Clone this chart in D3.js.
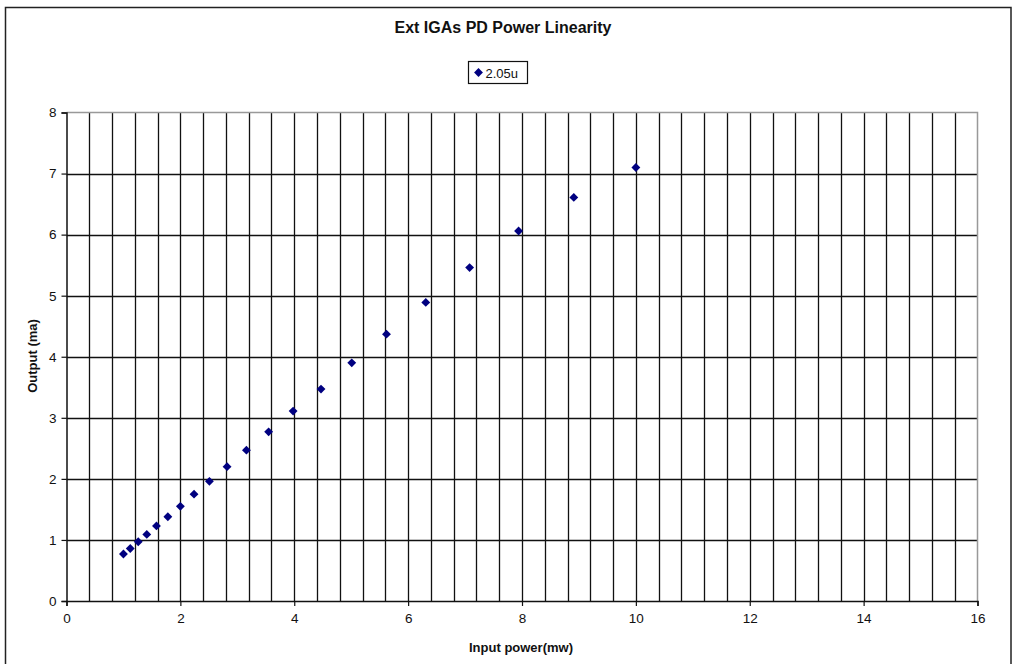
<!DOCTYPE html>
<html>
<head>
<meta charset="utf-8">
<script src="https://cdn.jsdelivr.net/npm/d3@7"></script>
<style>
  body { margin: 0; background: #fff; }
  svg { display: block; font-family: "Liberation Sans", Arial, sans-serif; }
</style>
</head>
<body>
<svg id="chart" width="1018" height="664"></svg>
<script>
// Data
const seriesName = "2.05u"
const inputPower = [1.0, 1.12, 1.26, 1.41, 1.58, 1.78, 2.0, 2.24, 2.51, 2.82, 3.16, 3.55, 3.98, 4.47, 5.01, 5.62, 6.31, 7.08, 7.94, 8.91, 10.0]
const outputMa = [0.77, 0.86, 0.97, 1.09, 1.23, 1.38, 1.55, 1.75, 1.96, 2.2, 2.47, 2.77, 3.11, 3.47, 3.9, 4.37, 4.89, 5.46, 6.06, 6.61, 7.1]
const xTicks = [0, 2, 4, 6, 8, 10, 12, 14, 16]
const yTicks = [0, 1, 2, 3, 4, 5, 6, 7, 8]

// Plot area
const plotLeft = 66.5, plotRight = 977.5, plotTop = 112.5, plotBottom = 601

const svg = d3.select("#chart")

// outer frame
svg.append("rect")
    .attr("x", 5.5).attr("y", 7.5)
    .attr("width", 1011 - 5.5).attr("height", 700)
    .attr("fill", "none")
    .attr("stroke", "#222")
    .attr("stroke-width", 1.5)

const x = d3.scaleLinear().domain([0, 16]).range([plotLeft, plotRight])
const y = d3.scaleLinear().domain([0, 8]).range([plotBottom, plotTop])

// vertical grid every 0.4
const xGrid = d3.range(1, 40).map(i => i * 0.4)
svg.append("g")
    .selectAll("line")
    .data(xGrid)
    .enter()
    .append("line")
    .attr("x1", d => Math.round(x(d)) + 0.5)
    .attr("x2", d => Math.round(x(d)) + 0.5)
    .attr("y1", plotTop)
    .attr("y2", plotBottom)
    .attr("stroke", "#111")
    .attr("stroke-width", 1.3)

// horizontal grid
svg.append("g")
    .selectAll("line")
    .data(yTicks.filter(d => d > 0 && d < 8))
    .enter()
    .append("line")
    .attr("x1", plotLeft)
    .attr("x2", plotRight)
    .attr("y1", d => Math.round(y(d)) + 0.5)
    .attr("y2", d => Math.round(y(d)) + 0.5)
    .attr("stroke", "#111")
    .attr("stroke-width", 1.3)

// top and right edges of plot area (gray)
svg.append("path")
    .attr("d", `M${plotLeft},${plotTop}H${plotRight}V${plotBottom}`)
    .attr("fill", "none")
    .attr("stroke", "#999")
    .attr("stroke-width", 1.5)

// axes
const xAxis = svg.append("g")
    .attr("transform", `translate(0,${plotBottom})`)
    .call(d3.axisBottom(x).tickValues(xTicks).tickSize(5).tickPadding(7))
const yAxis = svg.append("g")
    .attr("transform", `translate(${plotLeft},0)`)
    .call(d3.axisLeft(y).tickValues(yTicks).tickSize(5).tickPadding(5))

for (const ax of [xAxis, yAxis]) {
    ax.select(".domain").attr("stroke", "#111").attr("stroke-width", 1.5)
    ax.selectAll(".tick line").attr("stroke", "#111").attr("stroke-width", 1.2)
    ax.selectAll(".tick text")
        .attr("font-family", "Liberation Sans, Arial, sans-serif")
        .attr("font-size", 13.5)
        .attr("fill", "#111")
}

// points
const diamond = d3.symbol().type(d3.symbolDiamond2).size(50)
svg.append("g")
    .selectAll("path")
    .data(inputPower)
    .enter()
    .append("path")
    .attr("d", diamond)
    .attr("transform", (d, i) => `translate(${x(d)},${y(outputMa[i])})`)
    .attr("fill", "#000080")

// title
svg.append("text")
    .attr("x", 503).attr("y", 33)
    .attr("text-anchor", "middle")
    .attr("font-size", 16)
    .attr("font-weight", "bold")
    .attr("fill", "#111")
    .text("Ext IGAs PD Power Linearity")

// legend
const legend = svg.append("g").attr("transform", "translate(468.5,61.5)")
legend.append("rect")
    .attr("width", 59).attr("height", 22)
    .attr("fill", "#fff")
    .attr("stroke", "#111")
    .attr("stroke-width", 1.2)
legend.append("path")
    .attr("d", diamond)
    .attr("transform", "translate(10,11)")
    .attr("fill", "#000080")
legend.append("text")
    .attr("x", 17).attr("y", 16)
    .attr("font-size", 13)
    .attr("fill", "#111")
    .text(seriesName)

// axis titles
svg.append("text")
    .attr("x", 521).attr("y", 652)
    .attr("text-anchor", "middle")
    .attr("font-size", 13)
    .attr("font-weight", "bold")
    .attr("fill", "#111")
    .text("Input power(mw)")

svg.append("text")
    .attr("transform", "translate(37,356) rotate(-90)")
    .attr("text-anchor", "middle")
    .attr("font-size", 13)
    .attr("font-weight", "bold")
    .attr("fill", "#111")
    .text("Output (ma)")
</script>
</body>
</html>
